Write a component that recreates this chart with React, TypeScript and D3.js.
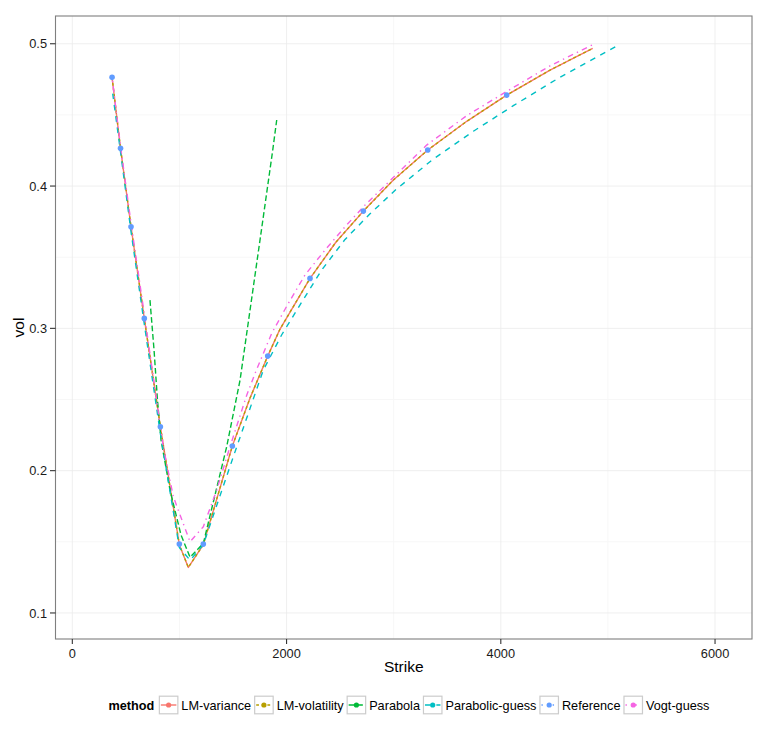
import { useEffect, useRef } from 'react';
import * as d3 from 'd3';

// LM fits (variance and volatility overlap almost exactly)
const lmVarianceStrike = [371, 450, 548, 672, 822, 999, 1083, 1223, 1494, 1659, 1824, 1939, 2219, 2460, 2717, 2997, 3318, 3682, 4055, 4460, 4858];
const lmVarianceVol = [0.4764, 0.4265, 0.3714, 0.307, 0.2309, 0.148, 0.132, 0.148, 0.2173, 0.251, 0.2805, 0.2995, 0.3351, 0.3605, 0.3824, 0.4042, 0.4253, 0.4455, 0.4639, 0.4815, 0.4968];
const lmVolatilityStrike = [371, 450, 548, 672, 822, 999, 1083, 1223, 1494, 1659, 1824, 1939, 2219, 2460, 2717, 2997, 3318, 3682, 4055, 4460, 4858];
const lmVolatilityVol = [0.4764, 0.4265, 0.3714, 0.307, 0.2309, 0.148, 0.132, 0.148, 0.2173, 0.251, 0.2805, 0.2995, 0.3351, 0.3605, 0.3824, 0.4042, 0.4253, 0.4455, 0.4639, 0.4815, 0.4968];

const parabolaStrike = [725, 763, 795, 828, 912, 1015, 1099, 1223, 1441, 1566, 1690, 1783, 1871, 1908];
const parabolaVol = [0.3198, 0.2847, 0.2495, 0.2216, 0.1864, 0.1547, 0.1391, 0.1489, 0.2168, 0.2637, 0.3292, 0.3784, 0.4253, 0.4464];

const parabolicGuessStrike = [377, 450, 548, 672, 822, 999, 1100, 1223, 1503, 1783, 1955, 2142, 2328, 2546, 2779, 3028, 3370, 3744, 4117, 4553, 5104];
const parabolicGuessVol = [0.465, 0.424, 0.368, 0.303, 0.226, 0.146, 0.137, 0.148, 0.2098, 0.2707, 0.2955, 0.3185, 0.341, 0.3625, 0.3805, 0.398, 0.419, 0.4385, 0.4565, 0.4765, 0.4993];

const referenceStrike = [371, 450, 548, 672, 822, 999, 1223, 1494, 1824, 2219, 2717, 3318, 4055];
const referenceVol = [0.4764, 0.4265, 0.3714, 0.307, 0.2309, 0.1484, 0.1484, 0.2173, 0.2805, 0.3351, 0.3824, 0.4253, 0.4639];

const vogtGuessStrike = [375, 450, 548, 672, 849, 943, 1099, 1223, 1348, 1472, 1628, 1706, 1861, 2017, 2172, 2359, 2546, 2733, 3308, 3682, 4055, 4460, 4864];
const vogtGuessVol = [0.474, 0.428, 0.374, 0.31, 0.2168, 0.1817, 0.15, 0.1606, 0.1864, 0.2168, 0.253, 0.2684, 0.2965, 0.3176, 0.3375, 0.355, 0.3714, 0.3867, 0.4288, 0.4495, 0.4665, 0.4845, 0.4996];

const xTicks = [0, 2000, 4000, 6000];
const xMinor = [1000, 3000, 5000];
const yTicks = [0.1, 0.2, 0.3, 0.4, 0.5];
const yMinor = [0.15, 0.25, 0.35, 0.45];

interface Series {
  name: string;
  strike: number[];
  vol: number[];
  color: string;
  dash: string | null;
  line: boolean;
  points: boolean;
}

// ggplot default hues + default linetype palette (solid, 22, 42, 44, 13, 1343)
const series: Series[] = [
  { name: 'LM-variance', strike: lmVarianceStrike, vol: lmVarianceVol, color: '#F8766D', dash: null, line: true, points: false },
  { name: 'LM-volatility', strike: lmVolatilityStrike, vol: lmVolatilityVol, color: '#B79F00', dash: '2.8,2.8', line: true, points: false },
  { name: 'Parabola', strike: parabolaStrike, vol: parabolaVol, color: '#00BA38', dash: '5.7,2.8', line: true, points: false },
  { name: 'Parabolic-guess', strike: parabolicGuessStrike, vol: parabolicGuessVol, color: '#00BFC4', dash: '5.7,5.7', line: true, points: false },
  { name: 'Reference', strike: referenceStrike, vol: referenceVol, color: '#619CFF', dash: '1.4,4.2', line: false, points: true },
  { name: 'Vogt-guess', strike: vogtGuessStrike, vol: vogtGuessVol, color: '#F564E3', dash: '1.4,4.2,5.7,4.2', line: true, points: false },
];

const FONT = '"Liberation Sans", Arial, Helvetica, sans-serif';

const App = () => {
  const ref = useRef<SVGSVGElement | null>(null);

  useEffect(() => {
    document.body.style.margin = '0';
    if (!ref.current) return;
    const svg = d3.select(ref.current);
    svg.selectAll('*').remove();

    const left = 55.5, right = 752, top = 16, bottom = 639;
    const x = d3.scaleLinear().domain([-157, 6345]).range([left, right]);
    const y = d3.scaleLinear().domain([0.0817, 0.5195]).range([bottom, top]);

    svg.append('rect').attr('width', 768).attr('height', 740).attr('fill', '#ffffff');

    // grid
    const grid = svg.append('g');
    grid.selectAll('line.xmin').data(xMinor).enter().append('line')
      .attr('x1', d => x(d)).attr('x2', d => x(d)).attr('y1', top).attr('y2', bottom)
      .attr('stroke', '#f7f7f7').attr('stroke-width', 1);
    grid.selectAll('line.ymin').data(yMinor).enter().append('line')
      .attr('y1', d => y(d)).attr('y2', d => y(d)).attr('x1', left).attr('x2', right)
      .attr('stroke', '#f7f7f7').attr('stroke-width', 1);
    grid.selectAll('line.xmaj').data(xTicks).enter().append('line')
      .attr('x1', d => x(d)).attr('x2', d => x(d)).attr('y1', top).attr('y2', bottom)
      .attr('stroke', '#ebebeb').attr('stroke-width', 0.8);
    grid.selectAll('line.ymaj').data(yTicks).enter().append('line')
      .attr('y1', d => y(d)).attr('y2', d => y(d)).attr('x1', left).attr('x2', right)
      .attr('stroke', '#ebebeb').attr('stroke-width', 0.8);

    // clip
    svg.append('clipPath').attr('id', 'panel').append('rect')
      .attr('x', left).attr('y', top).attr('width', right - left).attr('height', bottom - top);

    const plot = svg.append('g').attr('clip-path', 'url(#panel)');
    const line = d3.line<[number, number]>().x(d => x(d[0])).y(d => y(d[1]));

    series.forEach(s => {
      if (!s.line) return;
      const pts = s.strike.map((k, i) => [k, s.vol[i]] as [number, number]);
      plot.append('path')
        .attr('d', line(pts))
        .attr('fill', 'none')
        .attr('stroke', s.color)
        .attr('stroke-width', 1.4)
        .attr('stroke-dasharray', s.dash)
        .attr('stroke-linejoin', 'round');
    });
    series.forEach(s => {
      if (!s.points) return;
      plot.selectAll(null).data(s.strike).enter().append('circle')
        .attr('cx', d => x(d)).attr('cy', (_, i) => y(s.vol[i]))
        .attr('r', 2.8).attr('fill', s.color);
    });

    // panel border
    svg.append('rect').attr('x', left).attr('y', top).attr('width', right - left).attr('height', bottom - top)
      .attr('fill', 'none').attr('stroke', '#7f7f7f').attr('stroke-width', 1.1);

    // axes
    const axes = svg.append('g').style('font-family', FONT);
    axes.selectAll('line.xt').data(xTicks).enter().append('line')
      .attr('x1', d => x(d)).attr('x2', d => x(d)).attr('y1', bottom).attr('y2', bottom + 5)
      .attr('stroke', '#333').attr('stroke-width', 1.1);
    axes.selectAll('text.xt').data(xTicks).enter().append('text')
      .attr('x', d => x(d)).attr('y', bottom + 18.5)
      .attr('text-anchor', 'middle').style('font-size', '12.8px').attr('fill', '#1a1a1a')
      .text(d => String(d));
    axes.selectAll('line.yt').data(yTicks).enter().append('line')
      .attr('y1', d => y(d)).attr('y2', d => y(d)).attr('x1', left - 5.5).attr('x2', left)
      .attr('stroke', '#333').attr('stroke-width', 1.1);
    axes.selectAll('text.yt').data(yTicks).enter().append('text')
      .attr('x', left - 8.5).attr('y', d => y(d) + 4.6)
      .attr('text-anchor', 'end').style('font-size', '12.8px').attr('fill', '#1a1a1a')
      .text(d => d3.format('.1f')(d));

    axes.append('text').attr('x', (left + right) / 2).attr('y', 672)
      .attr('text-anchor', 'middle').style('font-size', '15.5px').attr('fill', '#000').text('Strike');
    axes.append('text').attr('transform', `translate(23.5, ${(top + bottom) / 2}) rotate(-90)`)
      .attr('text-anchor', 'middle').style('font-size', '15.5px').attr('fill', '#000').text('vol');

    // legend
    const legY = 705;
    const leg = svg.append('g').style('font-family', FONT).style('font-size', '12.7px');
    const title = leg.append('text').attr('x', 0).attr('y', legY + 4.5)
      .style('font-weight', 'bold').attr('fill', '#000').text('method');
    let cx = (title.node() as SVGTextElement).getComputedTextLength() + 5;
    const keyW = 18.5;
    series.forEach(s => {
      leg.append('rect').attr('x', cx).attr('y', legY - 8.8).attr('width', keyW).attr('height', 17.6)
        .attr('fill', '#fff').attr('stroke', '#cccccc').attr('stroke-width', 1.2);
      leg.append('line').attr('x1', cx + 1.5).attr('x2', cx + keyW - 1.5).attr('y1', legY).attr('y2', legY)
        .attr('stroke', s.color).attr('stroke-width', 1.4).attr('stroke-dasharray', s.dash);
      leg.append('circle').attr('cx', cx + keyW / 2).attr('cy', legY).attr('r', 2.6).attr('fill', s.color);
      const t = leg.append('text').attr('x', cx + keyW + 3.5).attr('y', legY + 4.5).attr('fill', '#000').text(s.name);
      cx += keyW + 3.5 + (t.node() as SVGTextElement).getComputedTextLength() + 3.5;
    });
    const total = cx - 3.5;
    leg.attr('transform', `translate(${409 - total / 2}, 0)`);
  }, []);

  return <svg ref={ref} width={768} height={740} style={{ display: 'block' }} />;
};

export default App;
